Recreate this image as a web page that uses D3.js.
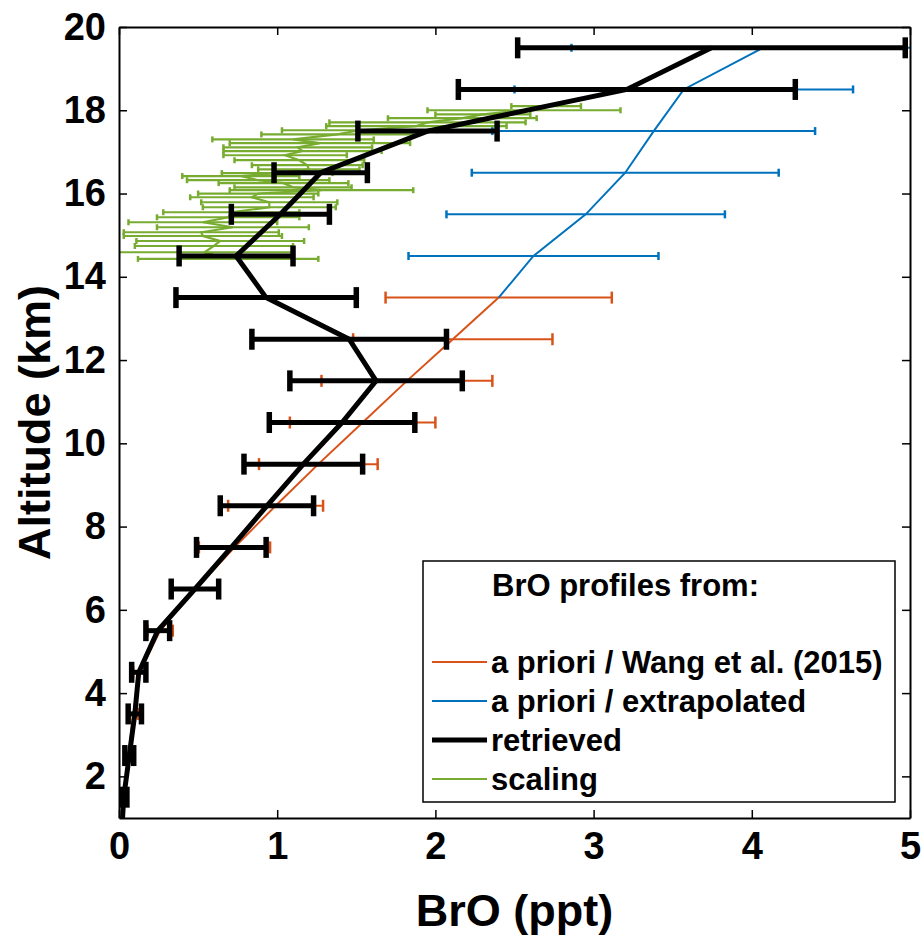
<!DOCTYPE html>
<html>
<head>
<meta charset="utf-8">
<script src="https://cdn.jsdelivr.net/npm/d3@7/dist/d3.min.js"></script>
<style>
body { margin: 0; background: #fff; }
text { font-family: "Liberation Sans", Arial, sans-serif; font-weight: bold; fill: #000; }
</style>
</head>
<body>
<svg id="chart" width="924" height="936"></svg>
<script>
// Profils de BrO (ppt) selon l'altitude (km)

// Altitudes des profils a priori / retrouvé
var alt_profil = [0.5, 1.5, 2.5, 3.5, 4.5, 5.5, 6.5, 7.5, 8.5, 9.5, 10.5, 11.5, 12.5, 13.5, 14.5, 15.5, 16.5, 17.5, 18.5, 19.5];

// a priori / Wang et al. (2015), de 0.5 à 13.5 km
var alt_wang = [0.5, 1.5, 2.5, 3.5, 4.5, 5.5, 6.5, 7.5, 8.5, 9.5, 10.5, 11.5, 12.5, 13.5];
var bro_wang = [0.01, 0.03, 0.06, 0.09, 0.13, 0.26, 0.485, 0.73, 0.99, 1.26, 1.54, 1.82, 2.11, 2.40];
var err_wang = [0.005, 0.01, 0.02, 0.03, 0.04, 0.08, 0.15, 0.225, 0.30, 0.375, 0.46, 0.54, 0.63, 0.715];

// a priori / extrapolé, de 13.5 à 19.5 km
var alt_extrap = [13.5, 14.5, 15.5, 16.5, 17.5, 18.5, 19.5];
var bro_extrap = [2.40, 2.62, 2.95, 3.20, 3.38, 3.57, 4.07];
var err_extrap = [null, 0.79, 0.88, 0.97, 1.02, 1.07, 1.21];

// Profil retrouvé
var bro_retrieved = [0.015, 0.03, 0.065, 0.10, 0.125, 0.245, 0.48, 0.71, 0.935, 1.165, 1.41, 1.625, 1.455, 0.93, 0.74, 1.02, 1.275, 1.95, 3.21, 3.745];
var err_retrieved = [0.01, 0.02, 0.028, 0.042, 0.045, 0.075, 0.15, 0.22, 0.295, 0.375, 0.46, 0.545, 0.615, 0.57, 0.36, 0.31, 0.295, 0.44, 1.065, 1.225];

// Méthode de scaling (mesures ballon)
var alt_scaling = [18.10, 18.00, 17.90, 17.81, 17.71, 17.62, 17.52, 17.42, 17.30, 17.21, 17.11, 17.02, 16.92, 16.80, 16.68, 16.58, 16.49, 16.42,
                   16.32, 16.25, 16.15, 16.08, 16.00, 15.91, 15.79, 15.67, 15.55, 15.43, 15.31, 15.19, 15.07, 14.98, 14.86, 14.74, 14.59, 14.43];
var bro_scaling = [2.70, 2.56, 2.30, 2.17, 1.95, 1.88, 1.52, 1.38, 1.10, 1.27, 1.13, 1.16, 1.05, 1.14, 1.19, 1.20, 1.00, 0.77,
                   0.88, 1.04, 1.10, 1.28, 0.88, 0.84, 0.95, 0.95, 0.71, 0.69, 0.53, 0.72, 0.52, 0.53, 0.64, 0.60, 0.54, 0.69];
var err_scaling = [0.22, 0.61, 0.30, 0.47, 0.62, 0.57, 0.49, 0.48, 0.51, 0.57, 0.47, 0.50, 0.39, 0.41, 0.35, 0.32, 0.35, 0.37,
                   0.45, 0.41, 0.37, 0.58, 0.38, 0.39, 0.43, 0.42, 0.43, 0.45, 0.47, 0.48, 0.49, 0.50, 0.53, 0.50, 0.56, 0.57];

var x_ticks = [0, 1, 2, 3, 4, 5];
var y_ticks = [2, 4, 6, 8, 10, 12, 14, 16, 18, 20];

var legend_titre = "BrO profiles from:";
var legend_noms = ["a priori / Wang et al. (2015)", "a priori / extrapolated", "retrieved", "scaling"];
var couleurs = ["#D95319", "#0072BD", "#000000", "#77AC30"];

var svg = d3.select("#chart");
// Bords de la zone de tracé
var p_left = 119, p_right = 910, p_top = 27, p_bottom = 818;

var x = d3.scaleLinear().domain([0, 5]).range([p_left, p_right]);
var y = d3.scaleLinear().domain([1, 20]).range([p_bottom, p_top]);

svg.append("defs").append("clipPath").attr("id", "zone")
    .append("rect")
    .attr("x", p_left).attr("y", p_top)
    .attr("width", p_right - p_left).attr("height", p_bottom - p_top);

var plot = svg.append("g").attr("clip-path", "url(#zone)");

// Tracé d'une série avec barres d'erreur horizontales
function draw_series(alts, vals, errs, couleur, style)
{
    var g = plot.append("g");
    alts.forEach(function(a, i) {
        var e = errs[i];
        if (e === null) return;
        var x0 = x(vals[i] - e), x1 = x(vals[i] + e), yy = y(a);
        g.append("line")
            .attr("x1", x0).attr("x2", x1).attr("y1", yy).attr("y2", yy)
            .attr("stroke", couleur).attr("stroke-width", style.bar);
        [x0, x1].forEach(function(xc) {
            g.append("line")
                .attr("x1", xc).attr("x2", xc)
                .attr("y1", yy - style.cap / 2).attr("y2", yy + style.cap / 2)
                .attr("stroke", couleur).attr("stroke-width", style.capw);
        });
    });
    var line = d3.line().x(function(d) { return x(d[1]); }).y(function(d) { return y(d[0]); });
    g.append("path")
        .datum(alts.map(function(a, i) { return [a, vals[i]]; }))
        .attr("d", line)
        .attr("fill", "none")
        .attr("stroke", couleur)
        .attr("stroke-width", style.line)
        .attr("stroke-linejoin", "miter");
}

draw_series(alt_wang, bro_wang, err_wang, couleurs[0], {bar: 2, cap: 12, capw: 2.5, line: 2});
draw_series(alt_extrap, bro_extrap, err_extrap, couleurs[1], {bar: 2, cap: 8, capw: 2.5, line: 2});
draw_series(alt_scaling, bro_scaling, err_scaling, couleurs[3], {bar: 2.2, cap: 6, capw: 2.5, line: 2.2});
draw_series(alt_profil, bro_retrieved, err_retrieved, couleurs[2], {bar: 5, cap: 21, capw: 5.5, line: 5});

// Axes (boîte avec graduations vers l'intérieur)
var ax_bottom = svg.append("g").attr("transform", "translate(0," + p_bottom + ")")
    .call(d3.axisBottom(x).tickValues(x_ticks).tickSize(-8).tickSizeOuter(0).tickPadding(14).tickFormat(d3.format("d")));
var ax_top = svg.append("g").attr("transform", "translate(0," + p_top + ")")
    .call(d3.axisTop(x).tickValues(x_ticks).tickSize(-8).tickSizeOuter(0).tickFormat(""));
var ax_left = svg.append("g").attr("transform", "translate(" + p_left + ",0)")
    .call(d3.axisLeft(y).tickValues(y_ticks).tickSize(-8).tickSizeOuter(0).tickPadding(13).tickFormat(d3.format("d")));
var ax_right = svg.append("g").attr("transform", "translate(" + p_right + ",0)")
    .call(d3.axisRight(y).tickValues(y_ticks).tickSize(-8).tickSizeOuter(0).tickFormat(""));

[ax_bottom, ax_top, ax_left, ax_right].forEach(function(ax) {
    ax.select(".domain").attr("stroke", "#000").attr("stroke-width", 2);
    ax.selectAll(".tick line").attr("stroke", "#000").attr("stroke-width", 1.5);
    ax.selectAll("text")
        .style("font-family", "'Liberation Sans', Arial, sans-serif")
        .style("font-weight", "bold")
        .style("font-size", "38px")
        .attr("fill", "#000");
});

// Titres des axes
svg.append("text")
    .attr("x", (p_left + p_right) / 2)
    .attr("y", 926)
    .attr("text-anchor", "middle")
    .style("font-size", "45px")
    .text("BrO (ppt)");

svg.append("text")
    .attr("transform", "translate(50," + (p_top + p_bottom) / 2 + ") rotate(-90)")
    .attr("text-anchor", "middle")
    .style("font-size", "45px")
    .text("Altitude (km)");

// Légende
var legend = svg.append("g");
legend.append("rect")
    .attr("x", 423).attr("y", 561)
    .attr("width", 472).attr("height", 241)
    .attr("fill", "#fff").attr("stroke", "#000").attr("stroke-width", 1.5);

legend.append("text")
    .attr("x", 492).attr("y", 596)
    .style("font-size", "31px")
    .text(legend_titre);

var legend_larg = [2, 2, 5, 2];
legend_noms.forEach(function(nom, i) {
    var yy = 662 + i * 39;
    legend.append("line")
        .attr("x1", 432).attr("x2", 487)
        .attr("y1", yy).attr("y2", yy)
        .attr("stroke", couleurs[i]).attr("stroke-width", legend_larg[i]);
    legend.append("text")
        .attr("x", 491).attr("y", yy + 11)
        .style("font-size", "31px")
        .text(nom);
});
</script>
</body>
</html>
